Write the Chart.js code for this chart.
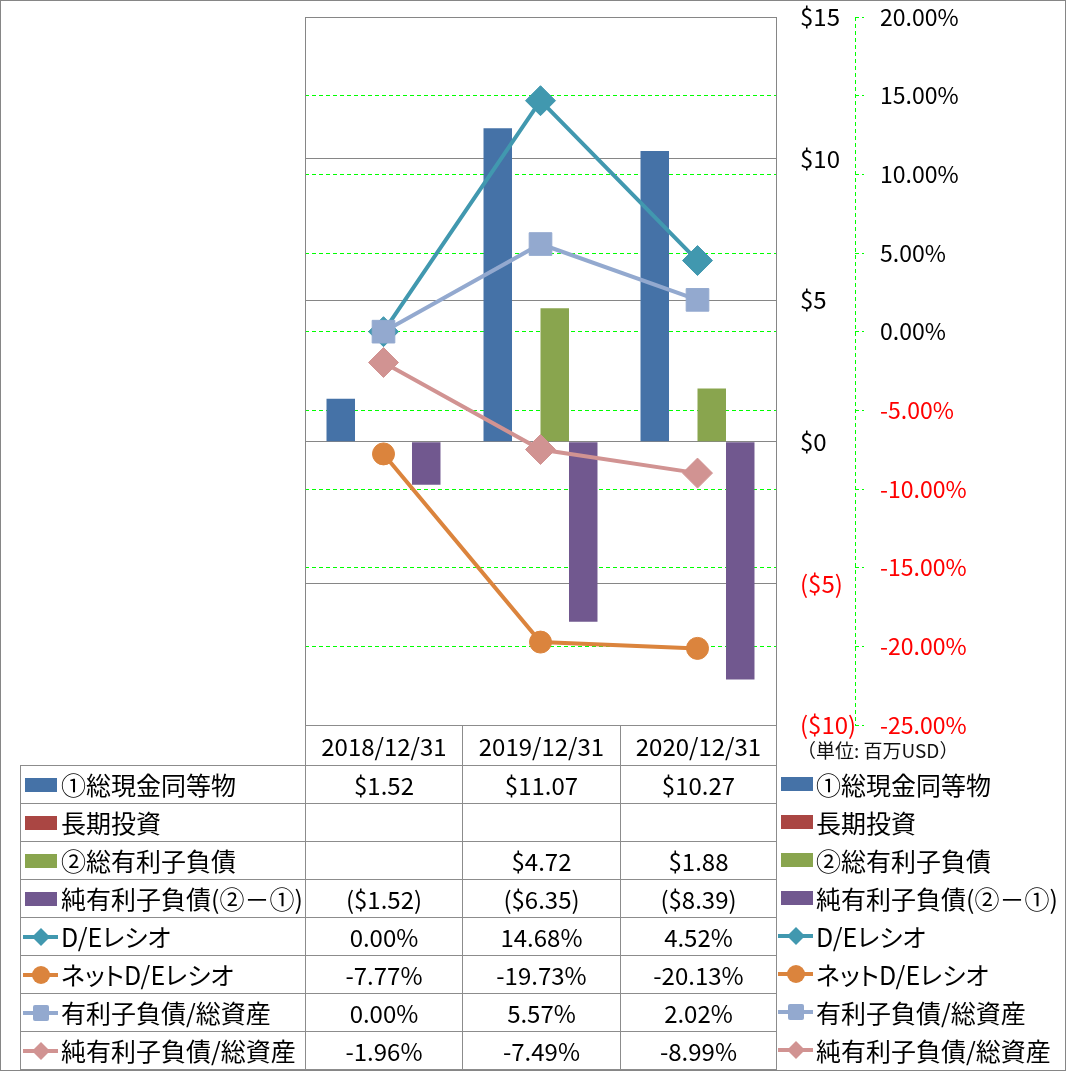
<!DOCTYPE html>
<html>
<head>
<meta charset="utf-8">
<script src="https://cdn.jsdelivr.net/npm/chart.js@4"></script>
<style>
body { margin: 0; background: #fff; font-family: 'Noto Sans CJK JP', sans-serif; }
#wrap { position: relative; width: 1066px; height: 1071px; overflow: hidden; }
#chart { position: absolute; left: 0; top: 0; }
#frame { position: absolute; left: 0; top: 0; width: 1066px; height: 1071px; box-sizing: border-box; border: 1px solid #868686; pointer-events: none; }
.cell { position: absolute; box-sizing: border-box; border: 1px solid #8c8c8c; display: flex; align-items: center; justify-content: center; font-size: 24px; line-height: 1; white-space: nowrap; color: #000; }
.cell.name { justify-content: flex-start; padding-left: 2px; }
.name span, .leg span { font-feature-settings: 'palt'; font-size: 25px; }
.leg { position: absolute; left: 778px; height: 38px; display: flex; align-items: center; font-size: 24px; line-height: 1; white-space: nowrap; }
svg { display: block; flex: none; }
#unit { position: absolute; left: 797px; top: 740px; font-size: 19px; line-height: 1; color: #111; white-space: nowrap; }
</style>
</head>
<body>
<div id="wrap">
  <canvas id="chart" width="1066" height="1071"></canvas>
  <div id="table"></div>
  <div id="unit">（単位: 百万USD）</div>
  <div id="frame"></div>
</div>
<script>
// data
const categories = ['2018/12/31', '2019/12/31', '2020/12/31'];
const cashValues = [1.52, 11.07, 10.27];           // ①総現金同等物
const longTermInvestValues = [null, null, null];    // 長期投資
const debtValues = [null, 4.72, 1.88];              // ②総有利子負債
const netDebtValues = [-1.52, -6.35, -8.39];        // 純有利子負債(②－①)
const deRatio = [0.00, 14.68, 4.52];                // D/Eレシオ (%)
const netDeRatio = [-7.77, -19.73, -20.13];         // ネットD/Eレシオ (%)
const debtToAssets = [0.00, 5.57, 2.02];            // 有利子負債/総資産 (%)
const netDebtToAssets = [-1.96, -7.49, -8.99];      // 純有利子負債/総資産 (%)

const dollarMin = -10, dollarMax = 15, dollarStep = 5;
const pctMin = -25, pctMax = 20, pctStep = 5;

const series = [
    { label: '①総現金同等物', data: cashValues, color: '#4572A7', kind: 'bar' },
    { label: '長期投資', data: longTermInvestValues, color: '#AA4643', kind: 'bar' },
    { label: '②総有利子負債', data: debtValues, color: '#89A54E', kind: 'bar' },
    { label: '純有利子負債(②－①)', data: netDebtValues, color: '#71588F', kind: 'bar' },
    { label: 'D/Eレシオ', data: deRatio, color: '#4198AF', kind: 'line', marker: 'rectRot' },
    { label: 'ネットD/Eレシオ', data: netDeRatio, color: '#DB843D', kind: 'line', marker: 'circle' },
    { label: '有利子負債/総資産', data: debtToAssets, color: '#93A9CF', kind: 'line', marker: 'rect' },
    { label: '純有利子負債/総資産', data: netDebtToAssets, color: '#D19392', kind: 'line', marker: 'rectRot' }
];

const money = v => v == null ? '' : (v < 0 ? '($' + (-v).toFixed(2) + ')' : '$' + v.toFixed(2));
const pct = v => v == null ? '' : v.toFixed(2) + '%';

const markerRadius = { rectRot: 15, circle: 11, rect: 16 };

const datasets = series.map((s, i) => {
    if (s.kind === 'bar') {
        return {
            type: 'bar', label: s.label, data: s.data, yAxisID: 'y',
            backgroundColor: s.color, borderWidth: 0,
            categoryPercentage: 0.726, barPercentage: 1.0, order: 10
        };
    }
    return {
        type: 'line', label: s.label, data: s.data, yAxisID: 'y1',
        borderColor: s.color, borderWidth: 4, tension: 0, fill: false,
        pointStyle: s.marker, pointRadius: markerRadius[s.marker],
        pointBackgroundColor: s.color, pointBorderColor: s.color, pointBorderWidth: 1,
        order: 8 - i // later series drawn on top
    };
});

const tickColor = ctx => ctx.tick && ctx.tick.value < 0 ? '#ff0000' : '#000000';

// no extra room for the first/last tick label
const fixWidth = w => s => { s.width = w; s.paddingTop = 0; s.paddingBottom = 0; };

// plot frame + dashed percent axis line
const framePlugin = {
    id: 'frame',
    beforeDatasetsDraw(chart) {
        const { ctx, chartArea: a } = chart;
        ctx.save();
        ctx.strokeStyle = '#868686';
        ctx.lineWidth = 1;
        ctx.strokeRect(Math.round(a.left) + 0.5, Math.round(a.top) + 0.5,
            Math.round(a.right - a.left), Math.round(a.bottom - a.top));
        const s = chart.scales.y1;
        ctx.strokeStyle = '#00ff00';
        ctx.setLineDash([4, 3]);
        ctx.beginPath();
        ctx.moveTo(Math.round(s.left) + 0.5, s.top);
        ctx.lineTo(Math.round(s.left) + 0.5, s.bottom);
        ctx.stroke();
        ctx.restore();
    }
};

new Chart(document.getElementById('chart').getContext('2d'), {
    type: 'bar',
    data: { labels: categories, datasets: datasets },
    options: {
        responsive: false,
        animation: false,
        devicePixelRatio: 1,
        layout: { padding: { left: 305, top: 15, right: 0, bottom: 346 } },
        plugins: { legend: { display: false }, tooltip: { enabled: false } },
        scales: {
            x: { display: false, offset: true },
            y: {
                position: 'right', weight: 0,
                min: dollarMin, max: dollarMax,
                afterFit: fixWidth(79),
                ticks: {
                    stepSize: dollarStep, padding: 24, color: tickColor,
                    font: { family: "'Noto Sans CJK JP'", size: 24 },
                    callback: v => v < 0 ? '($' + (-v) + ')' : '$' + v
                },
                grid: { color: '#868686', lineWidth: 1, drawTicks: false },
                border: { display: false }
            },
            y1: {
                position: 'right', weight: 1,
                min: pctMin, max: pctMax,
                afterFit: fixWidth(211),
                ticks: {
                    stepSize: pctStep, padding: 16, color: tickColor,
                    font: { family: "'Noto Sans CJK JP'", size: 23 },
                    callback: v => v.toFixed(2) + '%'
                },
                grid: {
                    color: '#00ff00', lineWidth: 1, drawTicks: true, tickLength: 9,
                    tickColor: '#00ff00', tickBorderDash: [4, 3]
                },
                border: { display: false, dash: [4, 3] }
            }
        }
    },
    plugins: [framePlugin]
});

// data table + legend
function keySvg(s, rectX) {
    const c = s.color;
    let inner;
    if (s.kind === 'bar') {
        inner = `<rect x="${rectX}" y="3" width="32" height="14" fill="${c}"/>`;
    } else {
        let m;
        if (s.marker === 'circle') m = `<circle cx="18" cy="10" r="9" fill="${c}"/>`;
        else if (s.marker === 'rect') m = `<rect x="10" y="2" width="16" height="16" rx="2" fill="${c}"/>`;
        else m = `<polygon points="18,1 27,10 18,19 9,10" fill="${c}"/>`;
        inner = `<line x1="0" y1="10" x2="35" y2="10" stroke="${c}" stroke-width="4"/>` + m;
    }
    return `<svg width="38" height="20" viewBox="0 0 38 20">${inner}</svg>`;
}

const colX = [20, 305, 462, 620, 776];
const rowY = [725, 765, 803, 841, 879, 917, 955, 993, 1031, 1069];
const table = document.getElementById('table');
const wrap = document.getElementById('wrap');

function cell(c, r, html, cls) {
    const d = document.createElement('div');
    d.className = 'cell' + (cls ? ' ' + cls : '');
    d.style.left = colX[c] + 'px';
    d.style.top = rowY[r] + 'px';
    d.style.width = (colX[c + 1] - colX[c] + 1) + 'px';
    d.style.height = (rowY[r + 1] - rowY[r] + 1) + 'px';
    d.innerHTML = html;
    table.appendChild(d);
}

categories.forEach((cat, i) => cell(i + 1, 0, cat));
series.forEach((s, r) => {
    cell(0, r + 1, keySvg(s, 2) + `<span>${s.label}</span>`, 'name');
    s.data.forEach((v, i) => cell(i + 1, r + 1, s.kind === 'bar' ? money(v) : pct(v)));

    const leg = document.createElement('div');
    leg.className = 'leg';
    leg.style.top = rowY[r + 1] + 'px';
    leg.innerHTML = keySvg(s, 3) + `<span>${s.label}</span>`;
    wrap.appendChild(leg);
});
</script>
</body>
</html>
